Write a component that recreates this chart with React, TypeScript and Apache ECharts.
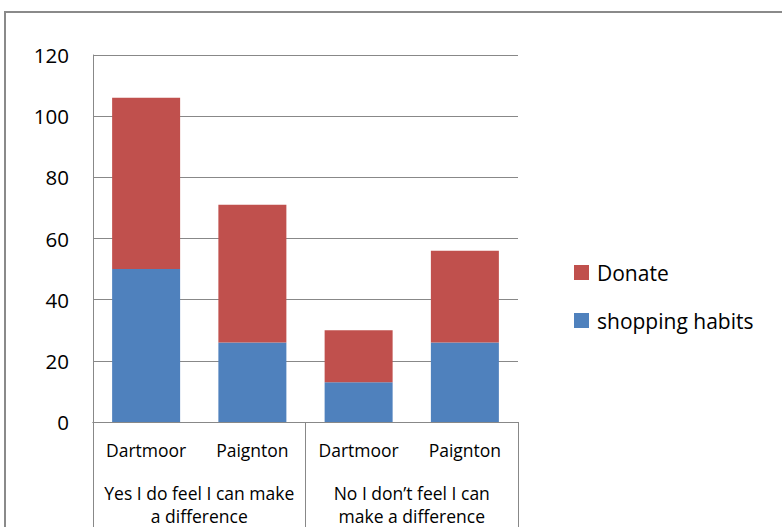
import React, { useEffect, useRef } from "react";
import * as echarts from "echarts";

const subCategories = ["Dartmoor", "Paignton", "Dartmoor", "Paignton"];
const groupLabels = [
  "Yes I do feel I can make\na difference",
  "No I don\u2019t feel I can\nmake a difference",
];
const shoppingHabits = [50, 26, 13, 26];
const donate = [56, 45, 17, 30];
const yTicks = { min: 0, max: 120, interval: 20 };

const FONT = "'Open Sans', 'Noto Sans', sans-serif";
const GRAY = "#888888";

export default function App() {
  const ref = useRef<HTMLDivElement>(null);
  useEffect(() => {
    if (!ref.current) return;
    const chart = echarts.init(ref.current, undefined, { renderer: "svg" });
    chart.setOption({
      animation: false,
      backgroundColor: "#ffffff",
      textStyle: { fontFamily: FONT },
      graphic: [
        {
          type: "rect",
          shape: { x: 5, y: 12, width: 1000, height: 1000 },
          style: { fill: "none", stroke: "#8a8a8a", lineWidth: 2 },
          silent: true,
        },
      ],
      grid: { left: 93, right: 264, top: 55, bottom: 105 },
      legend: {
        orient: "vertical",
        left: 574,
        top: 262,
        padding: 0,
        itemWidth: 15,
        itemHeight: 15,
        itemGap: 27,
        icon: "rect",
        data: ["Donate", "shopping habits"],
        textStyle: { fontFamily: FONT, fontSize: 21, color: "#000", padding: [0, 0, 0, 3] },
      },
      xAxis: [
        {
          type: "category",
          data: subCategories,
          position: "bottom",
          axisLine: { show: true, lineStyle: { color: GRAY, width: 1 } },
          axisTick: { show: false },
          axisLabel: { interval: 0, margin: 17, fontSize: 17.5, color: "#000", fontFamily: FONT, lineHeight: 22 },
        },
        {
          type: "category",
          data: groupLabels,
          position: "bottom",
          axisLine: { show: true, lineStyle: { color: GRAY, width: 1 } },
          axisTick: { show: true, interval: 0, length: 140, lineStyle: { color: GRAY, width: 1 } },
          axisLabel: {
            interval: 0,
            margin: 59,
            fontSize: 17.5,
            color: "#000",
            fontFamily: FONT,
            lineHeight: 23,
            align: "center",
          },
        },
      ],
      yAxis: {
        type: "value",
        min: yTicks.min,
        max: yTicks.max,
        interval: yTicks.interval,
        axisLine: { show: true, lineStyle: { color: GRAY, width: 1 } },
        axisTick: { show: false },
        splitLine: { show: true, lineStyle: { color: GRAY, width: 1 } },
        axisLabel: { margin: 24, fontSize: 20.5, color: "#000", fontFamily: FONT },
      },
      series: [
        {
          name: "shopping habits",
          type: "bar",
          stack: "total",
          xAxisIndex: 0,
          data: shoppingHabits,
          barWidth: "64%",
          itemStyle: { color: "#4F81BD" },
        },
        {
          name: "Donate",
          type: "bar",
          stack: "total",
          xAxisIndex: 0,
          data: donate,
          barWidth: "64%",
          itemStyle: { color: "#C0504D" },
        },
      ],
    });
    return () => chart.dispose();
  }, []);
  return (
    <div
      ref={ref}
      style={{ position: "absolute", left: 0, top: 0, width: 782, height: 527 }}
    />
  );
}
